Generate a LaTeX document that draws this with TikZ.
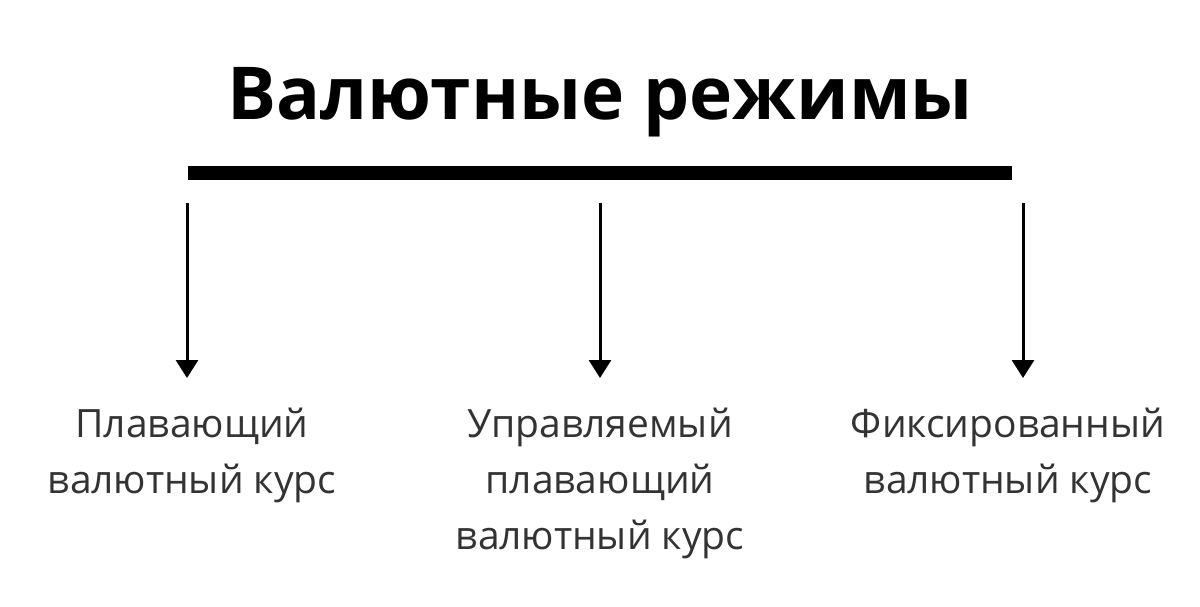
\documentclass[tikz,border=0pt]{standalone}
\usepackage{fontspec}
\setmainfont{Open Sans}
\usetikzlibrary{arrows.meta}
\begin{document}
\begin{tikzpicture}[x=1pt,y=-1pt,
  lbl/.style={align=center,font=\fontsize{39}{56}\selectfont,text=black!80},
  arr/.style={line width=3pt,-{Triangle[width=22pt,length=18pt]}}]
\useasboundingbox[fill=white] (0,0) rectangle (1200,607);
\node[font=\fontsize{73}{85}\bfseries\selectfont] (title) at (600,102) {Валютные режимы};
\draw[line width=14pt] (188,173) coordinate (b1) -- (1012,173) coordinate (b2);
\coordinate (s1) at (187,203); \coordinate (e1) at (187,378);
\coordinate (s2) at (600,203); \coordinate (e2) at (600,378);
\coordinate (s3) at (1023,203); \coordinate (e3) at (1023,378);
\draw[arr] (s1) -- (e1);
\draw[arr] (s2) -- (e2);
\draw[arr] (s3) -- (e3);
\node[lbl,anchor=north] (l1) at (192,404) {Плавающий\\валютный курс};
\node[lbl,anchor=north] (l2) at (600,404) {Управляемый\\плавающий\\валютный курс};
\node[lbl,anchor=north] (l3) at (1008,404) {Фиксированный\\валютный курс};
\end{tikzpicture}
\end{document}
